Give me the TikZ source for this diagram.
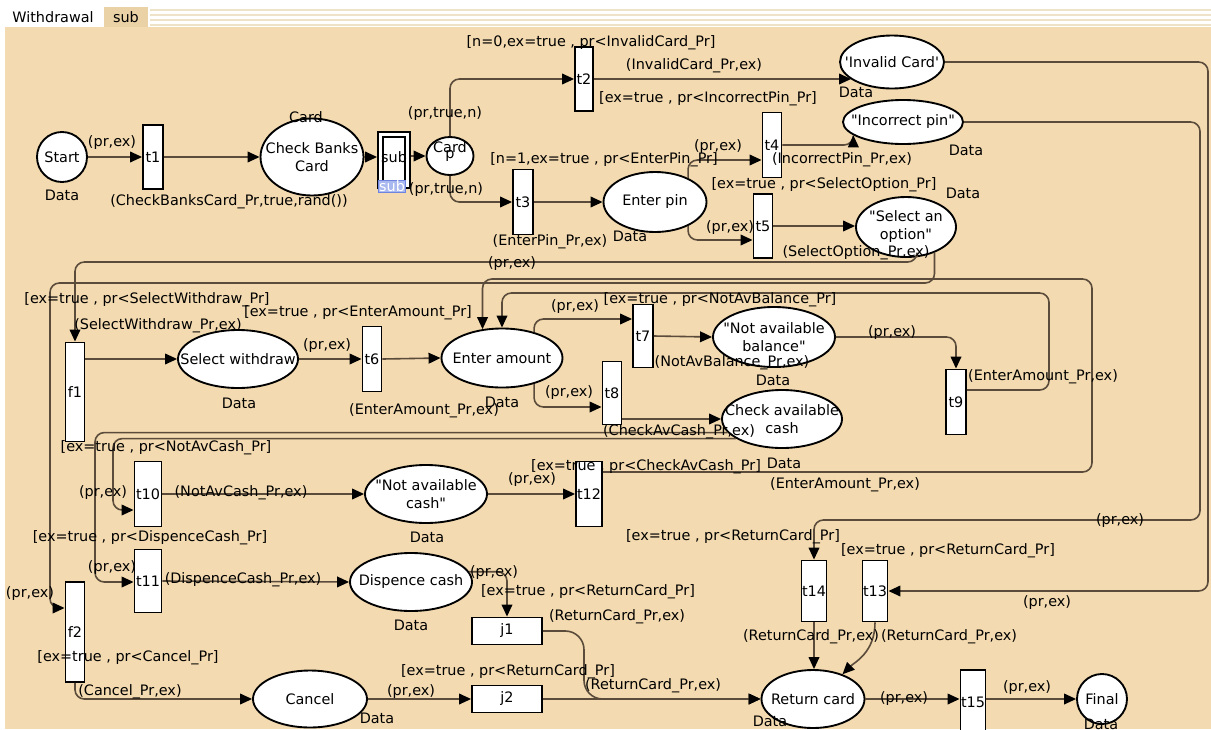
\documentclass[tikz,border=0pt]{standalone}
\usepackage{fontspec}
\newfontfamily\cpnfont{DejaVu Sans}
\usetikzlibrary{arrows.meta,positioning,calc,shapes.geometric}
\definecolor{CanvasBack}{HTML}{F3DAB0}
\definecolor{TabBack}{HTML}{EBD2A6}
\definecolor{StripeLine}{HTML}{EEE2C8}
\definecolor{ArcLine}{HTML}{5A4B3B}
\definecolor{TagBack}{HTML}{A9B8EF}
\definecolor{TagLine}{HTML}{6F84DE}
\tikzset{every node/.style={font=\cpnfont\fontsize{10.8}{13.5}\selectfont},
 dims/.style 2 args={minimum width=#1*0.75pt,minimum height=#2*0.75pt},
 place/.style={ellipse,draw=black,fill=white,line width=1.4pt,inner sep=0pt},
 trans/.style={draw=black,fill=white,line width=1.4pt,inner sep=0pt},
 cpnarc/.style={draw=ArcLine,line width=1.2pt,rounded corners=7pt,
 -{Triangle[length=9pt,width=8pt,color=black]}}}

\begin{document}
\begin{tikzpicture}[x=0.75pt,y=-0.75pt]
\useasboundingbox (0,0) rectangle (1211,729);
% page and tabs
\fill[white] (0,0) rectangle (1211,27);
\fill[CanvasBack] (5,27) rectangle (1211,729);
\foreach \y in {10,15,20,25} \draw[StripeLine,line width=1pt] (150,\y)--(1211,\y);
\fill[TabBack] (104,7) rectangle (148,27);
\node (tabW) at (53,17) {Withdrawal};
\node (tabS) at (126,17) {sub};

% places
\foreach \n/\x/\y/\w/\h/\txt in {start/62/157/50/50/Start,
 check/312/157/103/77/Check Banks\\Card, p/450/156/47/38/p,
 invalid/892/62/104/53/'Invalid Card',
 incorrect/903/122/120/44/"Incorrect pin", enterpin/655/202/103/60/Enter pin,
 selopt/906/227/100/60/"Select an\\option", selwd/238/359/120/58/Select withdraw,
 enteramt/502/358/121/59/Enter amount, nab/774/337/122/60/"Not available\\balance",
 cac/782/419/120/58/Check available\\cash, nac/426/494/122/58/"Not available\\cash",
 dispence/411/582/122/58/Dispence cash, cancel/310/699/114/57/Cancel,
 retcard/813/699/103/58/Return card, final/1102/699/50/50/Final}{
 \node[place,dims={\w}{\h}] (\n) at (\x,\y) {};
 \node[align=center] (\n-t) at (\n) {\txt};
}

% transitions
\foreach \n/\x/\y/\w/\h in {t1/153/157/20/64, t2/584/79/18/64, t3/523/202/20/65,
 t4/772/145/19/65, t5/763/226/19/64, f1/75/392/19/99, t6/372/359/19/65,
 t7/643/336/20/63, t8/612/393/19/63, t9/956/402/20/65, t10/148/494/27/65,
 t11/148/581/27/63, t12/589/494/26/65, f2/75/632/19/100, j1/507/631/70/27,
 j2/507/699/70/27, t13/875/591/25/61, t14/814/591/25/61, t15/973/702/25/64}
 \node[trans,dims={\w}{\h}] (\n) at (\x,\y) {\n};

% substitution transition
\node[trans,dims={32}{56}] (sub) at (394,160) {};
\node (sub-t) at (394,157) {sub};
\node[draw=black,line width=1.2pt,dims={22}{46}] (subin) at (sub) {};
\node[draw=TagLine,fill=TagBack,text=white,inner sep=0.5pt] (subtag) at (392,186) {sub};

% arcs
\draw[cpnarc] (start.east) -- (t1.west);
\draw[cpnarc] (t1.east) -- (check.west);
\draw[cpnarc] (check.east) -- (check.east -| sub.west);
\draw[cpnarc] (sub.east |- p.west) -- (p.west);
\draw[cpnarc] (p.north) |- (t2.west);
\draw[cpnarc] (p.south) |- (t3.west);
\draw[cpnarc] (t2.east) -- (invalid.203 |- t2.east);
\draw[cpnarc] (t3.east) -- (enterpin.west);
\draw[cpnarc] (enterpin.36) |- ($(t4.west)+(0,15)$);
\draw[cpnarc] (t4.east) -| (incorrect.195);
\draw[cpnarc] (enterpin.-36) |- ($(t5.west)+(0,14)$);
\draw[cpnarc] (t5.east) -- (t5.east -| selopt.west);
\draw[cpnarc] (selopt.290) |- (f1.north |- 0,262) -- (f1.north);
\draw[cpnarc] (selopt.318) |- (50,283) |- ($(f2.west)+(0,-24)$);
\draw[cpnarc] (f1.east |- selwd.west) -- (selwd.west);
\draw[cpnarc] (selwd.east) -- (t6.west);
\draw[cpnarc] (t6.east) -- (enteramt.west);
\draw[cpnarc] (enteramt.39) |- ($(t7.west)+(0,-17)$);
\draw[cpnarc] (t7.east) -- (nab.west);
\draw[cpnarc] (enteramt.-39) |- ($(t8.west)+(0,14)$);
\draw[cpnarc] (t8.east |- cac.west) -- (cac.west);
\draw[cpnarc] (nab.east) -| (t9.north);
\draw[cpnarc] ($(t9.east)+(0,-12)$) -| (1049,293) -| (enteramt.north);
\draw[cpnarc] ($(t12.east)+(0,-22)$) -| (1092,279) -| (enteramt.124);
\draw[cpnarc] (cac.203) -| (113,510) -- (t10.west |- 0,510);
\draw[cpnarc] (cac.194) -| (95,582) -- (t11.west |- 0,582);
\draw[cpnarc] (t10.east) -- (nac.west);
\draw[cpnarc] (nac.east) -- (t12.west);
\draw[cpnarc] (t11.east) -- (dispence.west);
\draw[cpnarc] (dispence.10) -| (j1.north);
\draw[cpnarc,rounded corners=14pt] (j1.east) -| (584,699) -- (retcard.west);
\draw[cpnarc] (f2.south) |- (cancel.west);
\draw[cpnarc] (cancel.east) -- (j2.west);
\draw[cpnarc] (j2.east) -- (retcard.west);
\draw[cpnarc] (retcard.east) -- (retcard.east -| t15.west);
\draw[cpnarc] (t15.east |- final.west) -- (final.west);
\draw[cpnarc] (t14.south) -- (t14.south |- retcard.north);
\draw[cpnarc] (t13.south) .. controls +(0,30) and +(12,-12) .. (retcard.40);
\draw[cpnarc] (invalid.east) -| (1208,591) -- (t13.east);
\draw[cpnarc] (incorrect.east) -| (1200,520) -| (t14.north);

% inscriptions
\foreach \x/\y/\txt [count=\i] in {62/195/Data, 112/143/{(pr,ex)},
 229/202/{(CheckBanksCard\_Pr,true,rand())}, 306/117/Card, 450/147/Card,
 445/114/{(pr,true,n)}, 446/190/{(pr,true,n)},
 591/43/{[n=0,ex=true , pr<InvalidCard\_Pr]}, 694/66/{(InvalidCard\_Pr,ex)},
 856/92/Data, 708/99/{[ex=true , pr<IncorrectPin\_Pr]},
 604/160/{[n=1,ex=true , pr<EnterPin\_Pr]}, 550/242/{(EnterPin\_Pr,ex)},
 630/236/Data, 718/147/{(pr,ex)}, 842/160/{(IncorrectPin\_Pr,ex)}, 966/150/Data,
 824/185/{[ex=true , pr<SelectOption\_Pr]}, 963/193/Data, 730/228/{(pr,ex)},
 856/253/{(SelectOption\_Pr,ex)}, 512/264/{(pr,ex)},
 147/300/{[ex=true , pr<SelectWithdraw\_Pr]}, 158/326/{(SelectWithdraw\_Pr,ex)},
 239/403/Data, 327/346/{(pr,ex)}, 358/313/{[ex=true , pr<EnterAmount\_Pr]},
 424/411/{(EnterAmount\_Pr,ex)}, 502/402/Data, 575/307/{(pr,ex)},
 720/300/{[ex=true , pr<NotAvBalance\_Pr]}, 732/363/{(NotAvBalance\_Pr,ex)},
 773/380/Data, 892/333/{(pr,ex)}, 1043/377/{(EnterAmount\_Pr,ex)},
 569/393/{(pr,ex)}, 679/432/{(CheckAvCash\_Pr,ex)}, 784/463/Data,
 166/448/{[ex=true , pr<NotAvCash\_Pr]}, 103/493/{(pr,ex)},
 241/493/{(NotAvCash\_Pr,ex)}, 427/537/Data, 532/480/{(pr,ex)},
 646/467/{[ex=true , pr<CheckAvCash\_Pr]}, 845/485/{(EnterAmount\_Pr,ex)},
 150/538/{[ex=true , pr<DispenceCash\_Pr]}, 112/568/{(pr,ex)},
 243/580/{(DispenceCash\_Pr,ex)}, 411/625/Data, 30/594/{(pr,ex)},
 128/658/{[ex=true , pr<Cancel\_Pr]}, 130/692/{(Cancel\_Pr,ex)}, 377/718/Data,
 411/692/{(pr,ex)}, 508/672/{[ex=true , pr<ReturnCard\_Pr]}, 494/573/{(pr,ex)},
 588/592/{[ex=true , pr<ReturnCard\_Pr]}, 617/617/{(ReturnCard\_Pr,ex)},
 653/686/{(ReturnCard\_Pr,ex)}, 733/537/{[ex=true , pr<ReturnCard\_Pr]},
 1120/521/{(pr,ex)}, 948/551/{[ex=true , pr<ReturnCard\_Pr]}, 1047/603/{(pr,ex)},
 811/637/{(ReturnCard\_Pr,ex)}, 949/637/{(ReturnCard\_Pr,ex)}, 770/721/Data,
 904/699/{(pr,ex)}, 1027/688/{(pr,ex)}, 1101/724/Data}
 \node (ann\i) at (\x,\y) {\txt};
\end{tikzpicture}
\end{document}
